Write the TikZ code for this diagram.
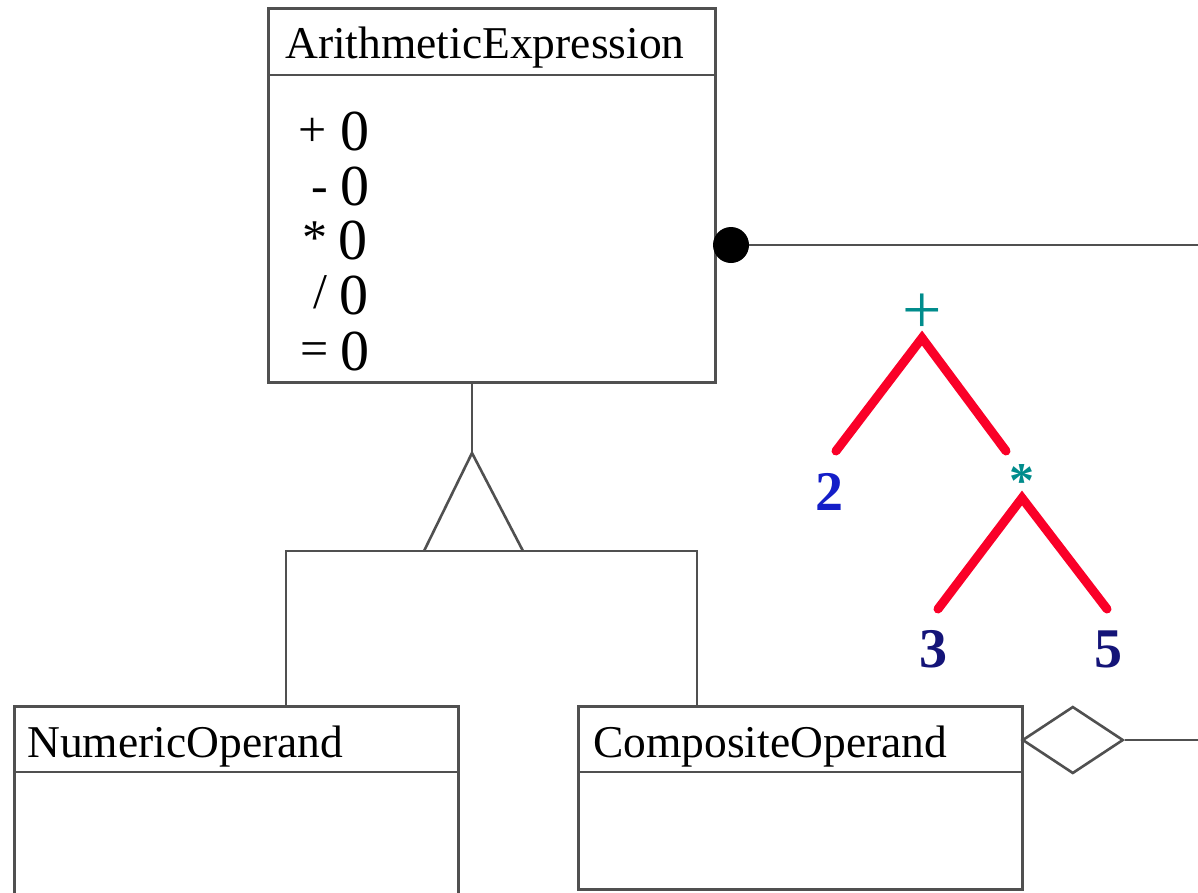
\documentclass[tikz,border=0pt]{standalone}
\usepackage{fontspec}
\setmainfont{Liberation Serif}
\usetikzlibrary{shapes.geometric,calc}
\definecolor{umlgray}{RGB}{80,80,80}
\definecolor{treered}{RGB}{250,0,40}
\definecolor{teal2}{RGB}{0,140,140}
\definecolor{blue2}{RGB}{20,30,200}
\definecolor{navy2}{RGB}{20,20,120}
\tikzset{
  classbox/.style={draw=umlgray, line width=3pt, fill=none, inner sep=0pt, anchor=north west},
  umlline/.style={draw=umlgray, line width=2.6pt},
  title/.style={anchor=base west, inner sep=0pt, font=\fontsize{45.5}{50}\selectfont},
  opsym/.style={inner sep=0pt, font=\fontsize{50}{55}\selectfont},
  zero/.style={inner sep=0pt, font=\fontsize{58}{62}\selectfont},
  edge/.style={draw=treered, line width=9pt, line cap=round},
  digit/.style={anchor=base, inner sep=0pt, font=\fontsize{56}{60}\selectfont\bfseries},
  opnode/.style={inner sep=0pt, text=teal2},
}
\begin{document}
\begin{tikzpicture}[x=1pt,y=-1pt]
\useasboundingbox (0,0) rectangle (1198,892);
\clip (0,0) rectangle (1198,892);
\fill[white] (0,0) rectangle (1198,892);

% ArithmeticExpression
\node[classbox, minimum width=447pt, minimum height=374pt] (ae) at (267,7) {};
\draw[umlline] ([yshift=-68pt]ae.north west) -- ([yshift=-68pt]ae.north east);
\node[title] (aet) at (285,58) {ArithmeticExpression};
\node[opsym] (o1) at (313,132) {+};
\node[opsym] (o2) at (320,196) {-};
\node[opsym] (o3) at (315,238) {*};
\node[opsym] (o4) at (320,292) {/};
\node[opsym] (o5) at (315,354) {=};
\node[zero] (z1) at (355,131) {0};
\node[zero] (z2) at (355,186) {0};
\node[zero] (z3) at (353,240) {0};
\node[zero] (z4) at (354,295) {0};
\node[zero] (z5) at (355,351) {0};

% association with black dot
\node[circle, fill=black, inner sep=0pt, minimum size=36pt] (dot) at (731,245) {};
\coordinate (dotend) at (1210,245);
\draw[umlline] (dot) -- (dotend);

% NumericOperand
\node[classbox, minimum width=444pt, minimum height=220pt] (num) at (13,705) {};
\draw[umlline] ([yshift=-67pt]num.north west) -- ([yshift=-67pt]num.north east);
\node[title] (numt) at (27,757) {NumericOperand};

% CompositeOperand
\node[classbox, minimum width=444pt, minimum height=183pt] (comp) at (577,705) {};
\draw[umlline] ([yshift=-67pt]comp.north west) -- ([yshift=-67pt]comp.north east);
\node[title] (compt) at (593,757) {CompositeOperand};

% aggregation diamond
\node[diamond, draw=umlgray, line width=2.6pt, fill=white, inner sep=0pt,
      minimum width=101pt, minimum height=67pt, anchor=west] (agg) at (1021,740) {};
\coordinate (aggend) at (1210,740);
\draw[umlline] (agg.east) -- (aggend);

% generalization
\coordinate (apex) at (472,453);
\coordinate (tl) at (424,551);
\coordinate (tr) at (523,551);
\coordinate (bl) at (286,551);
\coordinate (br) at (697,551);
\draw[umlline] (ae.south -| apex) -- (apex);
\draw[umlline, line join=miter] (tl) -- (apex) -- (tr);
\draw[umlline] (num.north -| bl) -- (bl) -- (br) -- (comp.north -| br);

% expression tree
\node[opnode, font=\fontsize{70}{70}\selectfont] (plus) at (922,314) {+};
\node[opnode, font=\fontsize{50}{50}\selectfont\bfseries] (star) at (1022,481) {*};
\node[digit, text=blue2] (two) at (829,510) {2};
\node[digit, text=navy2] (three) at (933,667) {3};
\node[digit, text=navy2] (five) at (1108,667) {5};
\coordinate (pa) at (922,338);
\coordinate (pl) at (836,451);
\coordinate (pr) at (1006,451);
\coordinate (sa) at (1022,498);
\coordinate (sl) at (938,609);
\coordinate (sr) at (1107,609);
\draw[edge] (pl) -- (pa) -- (pr);
\draw[edge] (sl) -- (sa) -- (sr);
\end{tikzpicture}
\end{document}
